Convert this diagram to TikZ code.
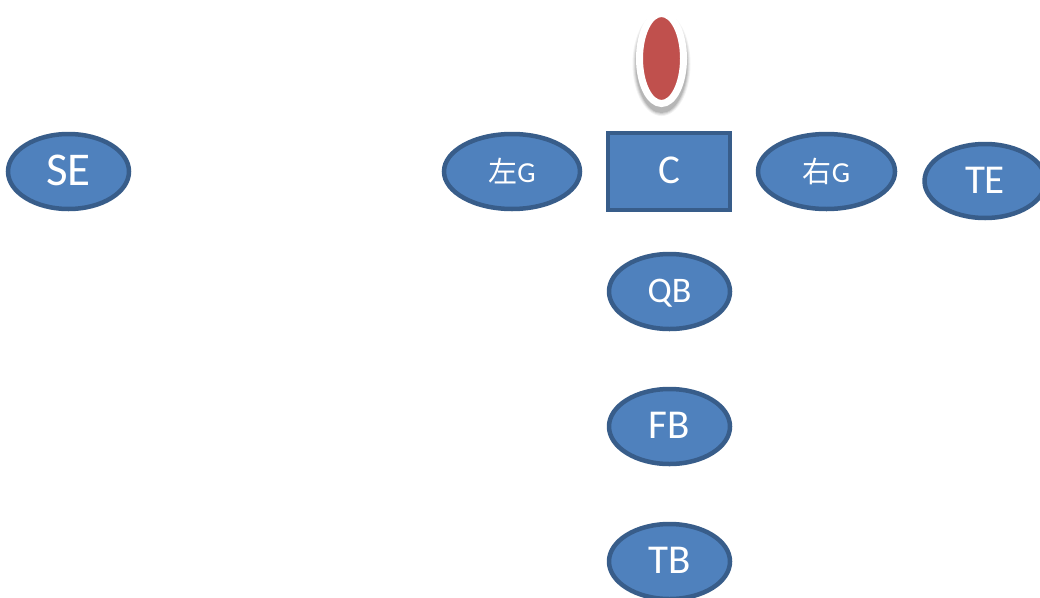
\documentclass[tikz,border=0pt]{standalone}
\usepackage{fontspec}
\setmainfont{Carlito}
\newfontfamily\cjk{Noto Sans CJK SC}
\usetikzlibrary{shapes.geometric}
\definecolor{fillblue}{HTML}{4F81BD}
\definecolor{edgeblue}{HTML}{385D8A}
\definecolor{redfill}{HTML}{C0504D}
\tikzset{
  player/.style={ellipse, draw=edgeblue, fill=fillblue, line width=4.5pt, inner sep=0pt,
    minimum width=121pt, minimum height=75pt, text=white},
  center/.style={rectangle, draw=edgeblue, fill=fillblue, line width=4.5pt, inner sep=0pt,
    minimum width=122pt, minimum height=77pt, text=white},
  big/.style={font=\fontsize{47}{50}\selectfont, text depth=2pt},
  mid/.style={font=\fontsize{41}{44}\selectfont, text depth=2pt},
  small/.style={font=\fontsize{36}{40}\selectfont, text depth=2pt},
  tiny/.style={font=\fontsize{29}{33}\selectfont, text depth=2pt},
}
\begin{document}
\begin{tikzpicture}[x=1pt,y=-1pt]
\useasboundingbox (0,0) rectangle (1040,597);
% ball shadow
\foreach \o/\s in {0.05/8,0.07/6,0.09/4,0.11/2}{
  \fill[black,opacity=\o] (661.5,64) ellipse ({25+\s/2} and {48+\s/2});
}
\node[ellipse, draw=white, fill=redfill, line width=7pt, inner sep=0pt,
  minimum width=44pt, minimum height=90pt] (ball) at (661.5,58.5) {};
\node[player,big] (SE) at (68.5,171.5) {SE};
\node[player,tiny,minimum width=136pt] (LG) at (512,171.5) {{\cjk 左}G};
\node[center,mid] (C) at (669,171.5) {C};
\node[player,tiny,minimum width=137pt] (RG) at (826.5,171.5) {{\cjk 右}G};
\node[player,mid,minimum height=74pt] (TE) at (985,181) {TE};
\node[player,small] (QB) at (669.5,291.5) {QB};
\node[player,mid] (FB) at (669.5,426.5) {FB};
\node[player,mid] (TB) at (669.5,561.5) {TB};
\end{tikzpicture}
\end{document}
